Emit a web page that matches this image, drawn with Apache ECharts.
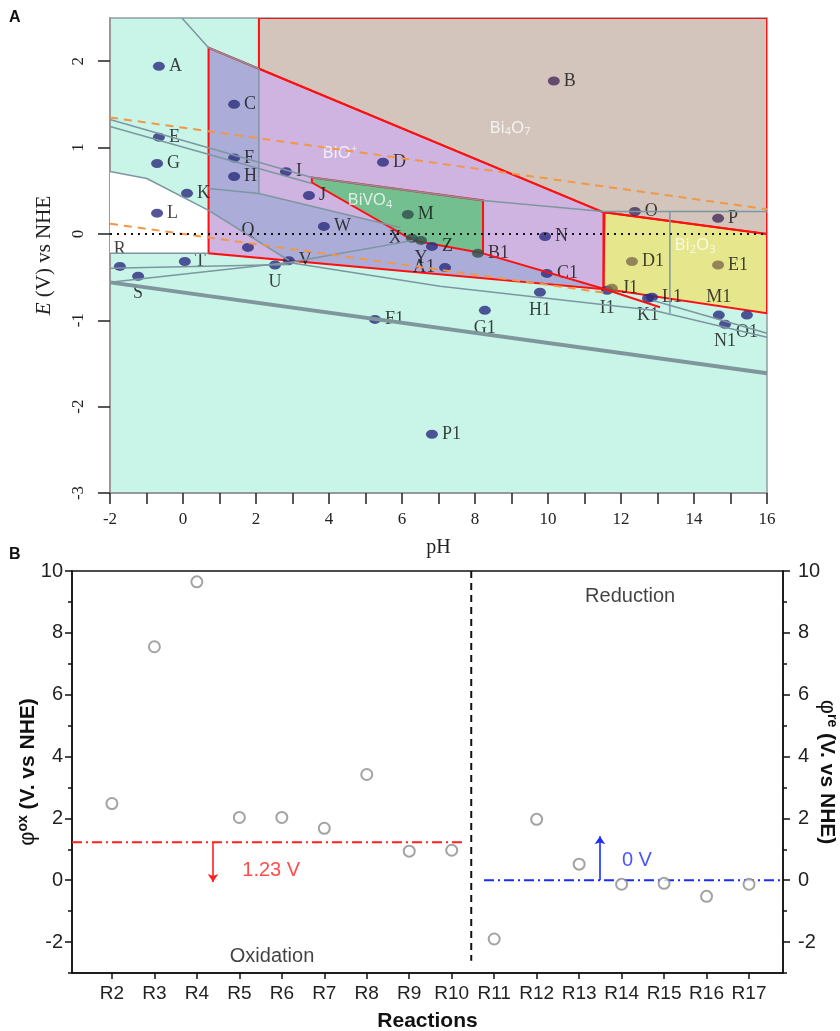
<!DOCTYPE html>
<html><head><meta charset="utf-8">
<script src="https://cdn.jsdelivr.net/npm/echarts@6.0.0/dist/echarts.min.js"></script>
<style>html,body{margin:0;padding:0;background:#fff}#c{width:840px;height:1031px}</style>
</head><body><div id="c"></div>
<script>
// ---------------- Panel A data ----------------
const pHTicks = [-2,-1,0,1,2,3,4,5,6,7,8,9,10,11,12,13,14,15,16];
const pHLabels = [-2,0,2,4,6,8,10,12,14,16];
const eTicks = [-3,-2,-1,0,1,2];

const pointNames = ['A','B','C','D','E','F','G','H','I','J','K','L','M','N','O','P','Q','R','S','T','U','V','W','X','Y','Z','A1','B1','C1','D1','E1','F1','G1','H1','I1','J1','K1','L1','M1','N1','O1','P1'];
const pointPH = [-0.66,10.16,1.40,5.48,-0.66,1.40,-0.71,1.40,2.82,3.45,0.11,-0.71,6.16,9.92,12.38,14.66,1.78,-1.73,-1.23,0.05,2.52,2.90,3.86,6.27,6.52,6.82,7.18,8.08,9.97,12.30,14.66,5.26,8.27,9.78,11.62,11.75,12.74,12.85,14.68,14.85,15.45,6.82];
const pointE = [1.94,1.77,1.50,0.83,1.12,0.88,0.815,0.665,0.72,0.445,0.47,0.24,0.225,-0.03,0.26,0.18,-0.156,-0.376,-0.49,-0.32,-0.36,-0.31,0.087,-0.05,-0.075,-0.145,-0.39,-0.225,-0.457,-0.32,-0.36,-0.99,-0.885,-0.676,-0.653,-0.63,-0.745,-0.734,-0.94,-1.046,-0.94,-2.32];

// region polygons [pH, E]
const regionWhite = [[-2,0.723],[-0.99,0.642],[0.70,0.272],[0.70,-0.225],[-2,-0.225]];
const regionBi4O7 = [[2.08,2.5],[16,2.5],[16,0.0],[11.52,0.25],[2.08,1.913]];
const regionBiOplus = [[0.70,2.156],[11.52,0.25],[11.52,-0.64],[0.70,-0.225]];
const overlapStrip = [[0.70,2.156],[2.08,1.913],[2.08,0.468],[0.70,0.526]];
const overlapBand = [[0.70,0.526],[2.08,0.468],[5.95,0.075],[6.30,-0.075],[8.22,-0.225],[11.52,-0.635],[2.85,-0.31],[0.70,0.272]];
const regionBiVO4 = [[3.53,0.653],[8.22,0.387],[8.22,-0.225],[6.30,-0.075],[3.53,0.595]];
const regionBi2O3 = [[11.55,0.25],[16,0.0],[16,-0.92],[11.52,-0.635]];
const redStub = [[8.22,-0.225],[11.52,-0.635],[13.07,-0.85]];

// boundary lines [pH, E]
const lineTopLeft = [[-0.03,2.5],[0.70,2.156],[2.08,1.913]];
const lineStripEdge = [[2.08,1.913],[2.08,0.468]];
const lineUpperA = [[-2,1.324],[3.53,0.653],[8.22,0.387],[11.52,0.26],[16,0.26]];
const lineUpperB = [[-2,1.243],[3.53,0.584]];
const lineWhiteTop = [[-2,0.723],[-0.99,0.642],[0.70,0.272],[2.9,-0.306]];
const lineBandTop = [[0.70,0.526],[2.08,0.468],[5.95,0.075]];
const lineWhiteBottom = [[-2,-0.225],[0.70,-0.225]];
const lineR = [[-2,-0.399],[2.9,-0.353]];
const lineV = [[2.9,-0.33],[7.04,-0.607],[12.88,-0.884],[16,-1.197]];
const lineS = [[-2,-0.561],[2.9,-0.33],[5.53,-0.133],[6.30,-0.075]];
const lineH2 = [[-2,-0.561],[16,-1.613]];
const lineM1 = [[12.88,-0.77],[16,-1.15]];
const lineVert = [[13.34,0.26],[13.34,-0.92]];
const waterUpper = [[-2,1.348],[16,0.286]];
const waterLower = [[-2,0.118],[11.52,-0.68]];
const zeroLine = [[-2,0],[16,0]];

const regionLabelNames = ['Bi4O7','BiO+','BiVO4','Bi2O3'];
const regionLabelPH = [8.96,4.30,5.12,14.03];
const regionLabelE = [1.23,0.93,0.387,-0.13];

// ---------------- Panel B data ----------------
const reactions = ['R2','R3','R4','R5','R6','R7','R8','R9','R10','R11','R12','R13','R14','R15','R16','R17'];
const reactionIdx = [2,3,4,5,6,7,8,9,10,11,12,13,14,15,16,17];
const phiValues = [2.48,7.55,9.65,2.03,2.03,1.68,3.42,0.94,0.97,-1.90,1.97,0.52,-0.13,-0.10,-0.52,-0.13];
const phiTicks = [-2,0,2,4,6,8,10];
const phiMinorTicks = [-3,-1,1,3,5,7,9];
const oxPotential = 1.23;
const rePotential = 0;

// ---------------- styles ----------------
const labelPos = {Q:'top',R:'top',S:'bottom',U:'bottom',X:'left',Y:'bottom',A1:'left',G1:'bottom',H1:'bottom',I1:'bottom',K1:'bottom',M1:'top',N1:'bottom',O1:'bottom'};
const dotColor = {B:'#4a2b5e',O:'#4a2b5e',P:'#4a2b5e',M:'#2f4f4c',X:'#2f4f4c',Y:'#2f4f4c',B1:'#2f4f4c',D1:'#7d6b4a',E1:'#7d6b4a',J1:'#7d6b4a'};
const regionRich = {
  'Bi4O7':'Bi{s|4}O{s|7}', 'BiO+':'BiO{u|+}', 'BiVO4':'BiVO{s|4}', 'Bi2O3':'Bi{s|2}O{s|3}'
};

const serif = 'Liberation Serif';
const sans = 'Liberation Sans';

function poly(points, fill, stroke, lw) {
  return {
    type:'custom', xAxisIndex:0, yAxisIndex:0, silent:true, clip:true,
    data:[[points[0][0], points[0][1]]],
    renderItem:function(params, api){
      return {type:'polygon', shape:{points: points.map(p=>api.coord(p))},
        style:{fill: fill || 'none', stroke: stroke || 'none', lineWidth: lw || 0, lineJoin:'miter'}};
    }
  };
}
function gline(points, color, width, type) {
  return {type:'line', xAxisIndex:0, yAxisIndex:0, data:points, symbol:'none', silent:true,
    lineStyle:{color:color, width:width, type:type||'solid'}};
}

const RED = '#ff1010';
const GRAY = '#7d96a0';
const ORANGE = '#f19748';
const BRED = '#ff2020';
const BBLUE = '#1a2cff';

const series = [
  poly(regionWhite, '#ffffff'),
  poly(regionBi4O7, '#d3c5bb'),
  poly(regionBiOplus, '#cfb4e1'),
  poly(overlapStrip, '#abadd8'),
  poly(overlapBand, '#abadd8'),
  poly(regionBiVO4, '#74bf8f'),
  poly(regionBi2O3, '#e6e68c'),
  gline(lineTopLeft, GRAY, 1.5),
  gline(lineStripEdge, GRAY, 1.5),
  gline(lineUpperA, GRAY, 1.5),
  gline(lineUpperB, GRAY, 1.5),
  gline(lineWhiteTop, GRAY, 1.5),
  gline(lineBandTop, GRAY, 1.5),
  gline(lineWhiteBottom, GRAY, 1.5),
  gline(lineR, GRAY, 1.5),
  gline(lineV, GRAY, 1.5),
  gline(lineS, GRAY, 1.5),
  gline(lineH2, '#7f969c', 4),
  gline(lineM1, GRAY, 1.5),
  gline(lineVert, GRAY, 1.5),
  gline(waterUpper, ORANGE, 2, [8,6]),
  gline(waterLower, ORANGE, 2, [8,6]),
  gline(zeroLine, '#111', 2, [2,5]),
  poly(regionBi4O7, null, RED, 2),
  poly(regionBiOplus, null, RED, 2),
  poly(regionBiVO4, null, RED, 2),
  poly(regionBi2O3, null, RED, 2),
  gline(redStub, RED, 2),
  {
    type:'scatter', xAxisIndex:0, yAxisIndex:0, symbol:'circle', symbolSize:[12,9], silent:true,
    data: pointNames.map((n,i)=>({name:n, value:[pointPH[i], pointE[i]],
      itemStyle:{color: dotColor[n] || '#2b2c7e'},
      label:{position: labelPos[n] || 'right'}})),
    label:{show:true, formatter:'{b}', distance:4, fontFamily:serif, fontSize:18, color:'#111'}
  },
  {
    type:'scatter', xAxisIndex:0, yAxisIndex:0, symbolSize:0, silent:true,
    data: regionLabelNames.map((n,i)=>({name:n, value:[regionLabelPH[i], regionLabelE[i]]})),
    label:{show:true, position:'inside', formatter:p=>regionRich[p.name], color:'#fff', fontFamily:'Open Sans', fontSize:17,
      rich:{s:{fontSize:11, color:'#fff', fontFamily:'Open Sans', verticalAlign:'bottom', padding:[9,0,0,0]},
            u:{fontSize:11, color:'#fff', fontFamily:'Open Sans', verticalAlign:'top', padding:[0,0,9,0]}}}
  },
  // ---------- Panel B ----------
  {
    type:'scatter', xAxisIndex:1, yAxisIndex:1, symbol:'emptyCircle', symbolSize:11, silent:true, z:5,
    itemStyle:{color:'#8c8c8c', borderColor:'#8c8c8c', borderWidth:1.4},
    data: reactionIdx.map((x,i)=>[x, phiValues[i]])
  },
  {type:'line', xAxisIndex:1, yAxisIndex:1, symbol:'none', silent:true, data:[[1.06,oxPotential],[10.24,oxPotential]],
    lineStyle:{color:BRED, width:2, type:[10,4,2,4]}},
  {type:'line', xAxisIndex:1, yAxisIndex:1, symbol:'none', silent:true, data:[[10.76,rePotential],[17.8,rePotential]],
    lineStyle:{color:BBLUE, width:2, type:[10,4,2,4]}},
  {type:'line', xAxisIndex:1, yAxisIndex:1, symbol:'none', silent:true, data:[[10.46,10],[10.46,-2.6]],
    lineStyle:{color:'#111', width:2, type:[7,5]}},
  {type:'lines', coordinateSystem:'cartesian2d', xAxisIndex:1, yAxisIndex:1, silent:true,
    symbol:['none','arrow'], symbolSize:8,
    data:[{coords:[[4.38,oxPotential],[4.38,-0.06]], lineStyle:{color:BRED}},
          {coords:[[13.49,rePotential],[13.49,1.42]], lineStyle:{color:BBLUE}}],
    lineStyle:{width:1.6, opacity:1}},
  {type:'scatter', xAxisIndex:1, yAxisIndex:1, symbolSize:0, silent:true,
    data:[
      {name:'1.23 V', value:[5.75,0.32], label:{color:BRED}},
      {name:'0 V', value:[14.36,0.65], label:{color:BBLUE}},
      {name:'Oxidation', value:[5.77,-2.45], label:{color:'#111'}},
      {name:'Reduction', value:[14.2,9.19], label:{color:'#111'}}
    ],
    label:{show:true, position:'inside', formatter:'{b}', fontFamily:sans, fontSize:20}
  }
];

const bAxisName = {fontFamily:sans, fontSize:21, fontWeight:'bold', color:'#111'};
const phiRich = {
  p:{fontFamily:sans, fontSize:22, color:'#111'},
  s:{fontFamily:sans, fontSize:14, fontWeight:'bold', color:'#111', verticalAlign:'top', padding:[0,0,10,0]},
  t:{fontFamily:sans, fontSize:21, fontWeight:'bold', color:'#111'}
};
const option = {
  animation:false,
  backgroundColor:'#fff',
  grid:[
    {left:110, top:18, width:657, height:475, show:true, containLabel:false, outerBoundsMode:'none',
      backgroundColor:'#c8f5e8', borderColor:'#8e9ea2', borderWidth:1.5},
    {left:72, top:571, width:711, height:402, show:true, containLabel:false, outerBoundsMode:'none',
      backgroundColor:'#fff', borderColor:'#111', borderWidth:1.5}
  ],
  xAxis:[
    {gridIndex:0, type:'value', min:-2, max:16,
      axisLine:{show:true, onZero:false, lineStyle:{color:'#999', width:2}},
      axisTick:{show:true, customValues:pHTicks, length:11, lineStyle:{color:'#222', width:1.5}},
      axisLabel:{customValues:pHLabels, margin:18, fontFamily:serif, fontSize:17, color:'#222'},
      splitLine:{show:false},
      name:'pH', nameLocation:'middle', nameGap:45, nameTextStyle:{fontFamily:serif, fontSize:20, color:'#222'}},
    {gridIndex:1, type:'value', min:1.06, max:17.8,
      axisLine:{show:true, onZero:false, lineStyle:{color:'#111', width:1.5}},
      axisTick:{show:true, customValues:reactionIdx, length:6, lineStyle:{color:'#111', width:1.5}},
      axisLabel:{customValues:reactionIdx, formatter:v=>reactions[v-2], margin:11, fontFamily:sans, fontSize:19, color:'#222'},
      splitLine:{show:false},
      name:'Reactions', nameLocation:'middle', nameGap:38, nameTextStyle:bAxisName}
  ],
  yAxis:[
    {gridIndex:0, type:'value', min:-3, max:2.5,
      axisLine:{show:true, onZero:false, lineStyle:{color:'#999', width:2}},
      axisTick:{show:true, customValues:eTicks, length:12, lineStyle:{color:'#222', width:1.5}},
      axisLabel:{customValues:eTicks, rotate:90, margin:23, fontFamily:serif, fontSize:17, color:'#222'},
      splitLine:{show:false},
      name:'{i|E} (V) vs NHE', nameLocation:'middle', nameGap:55,
      nameTextStyle:{fontFamily:serif, fontSize:21, color:'#222', rich:{i:{fontStyle:'italic', fontFamily:serif, fontSize:21, color:'#222'}}}},
    {gridIndex:1, type:'value', min:-3, max:10, position:'left',
      axisLine:{show:true, onZero:false, lineStyle:{color:'#111', width:1.5}},
      axisTick:{show:true, customValues:phiTicks, length:7, lineStyle:{color:'#111', width:1.5}},
      axisLabel:{customValues:phiTicks, margin:9, fontFamily:sans, fontSize:20, color:'#222'},
      splitLine:{show:false},
      name:'{p|φ}{s|ox}{t| (V. vs NHE)}', nameLocation:'middle', nameGap:32, nameMoveOverlap:false,
      nameTextStyle:{fontFamily:sans, fontSize:21, color:'#111', rich:phiRich}},
    {gridIndex:1, type:'value', min:-3, max:10, position:'right',
      axisLine:{show:true, onZero:false, lineStyle:{color:'#111', width:1.5}},
      axisTick:{show:true, customValues:phiTicks, length:7, lineStyle:{color:'#111', width:1.5}},
      axisLabel:{customValues:phiTicks, margin:15, fontFamily:sans, fontSize:20, color:'#222'},
      splitLine:{show:false},
      name:'{p|φ}{s|re}{t| (V. vs NHE)}', nameLocation:'middle', nameGap:32, nameRotate:-90, nameMoveOverlap:false,
      nameTextStyle:{fontFamily:sans, fontSize:21, color:'#111', rich:phiRich}},
    {gridIndex:1, type:'value', min:-3, max:10, position:'left',
      axisLine:{show:false}, axisLabel:{show:false}, splitLine:{show:false},
      axisTick:{show:true, customValues:phiMinorTicks, length:4, lineStyle:{color:'#111', width:1.5}}},
    {gridIndex:1, type:'value', min:-3, max:10, position:'right',
      axisLine:{show:false}, axisLabel:{show:false}, splitLine:{show:false},
      axisTick:{show:true, customValues:phiMinorTicks, length:4, lineStyle:{color:'#111', width:1.5}}}
  ],
  graphic:[
    {type:'text', left:9, top:10, style:{text:'A', font:'bold 16px Liberation Sans', fill:'#111'}},
    {type:'text', left:9, top:547, style:{text:'B', font:'bold 16px Liberation Sans', fill:'#111'}}
  ],
  series: series
};
const chart = echarts.init(document.getElementById('c'), null, {renderer:'canvas'});
chart.setOption(option);
</script>
</body></html>
